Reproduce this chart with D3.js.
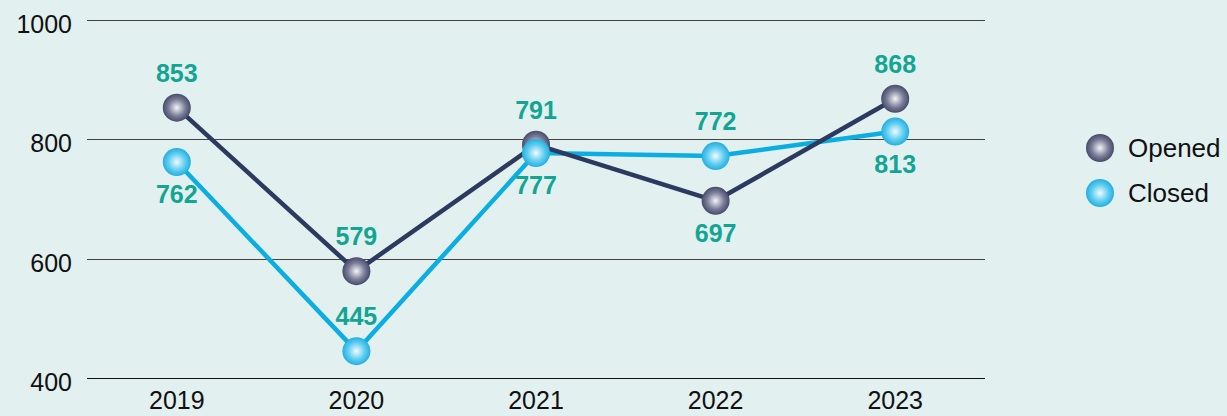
<!DOCTYPE html>
<html>
<head>
<meta charset="utf-8">
<script src="https://cdn.jsdelivr.net/npm/d3@7"></script>
<style>
  body { margin: 0; background: #e2f0ef; }
  svg { display: block; font-family: "Liberation Sans", Arial, sans-serif; }
</style>
</head>
<body>
<div id="chart"></div>
<script>
// data
const years = ["2019", "2020", "2021", "2022", "2023"];
const opened = [853, 579, 791, 697, 868];
const closed = [762, 445, 777, 772, 813];
const yTicks = [400, 600, 800, 1000];
// label placement: -1 above, +1 below
const openedLabelPos = [-1, -1, -1, 1, -1];
const closedLabelPos = [1, -1, 1, -1, 1];

const width = 1227, height = 416;
const margin = { top: 20, right: 242, bottom: 38, left: 87 };

const svg = d3.select("#chart").append("svg")
    .attr("width", width)
    .attr("height", height)
    .style("background", "#e2f0ef");

// gradients for the ball markers
const defs = svg.append("defs");
function ballGradient(id, light, mid, dark) {
    const g = defs.append("radialGradient")
        .attr("id", id)
        .attr("cx", "50%").attr("cy", "50%").attr("r", "55%");
    g.append("stop").attr("offset", "0%").attr("stop-color", light);
    g.append("stop").attr("offset", "55%").attr("stop-color", mid);
    g.append("stop").attr("offset", "100%").attr("stop-color", dark);
}
ballGradient("gOpened", "#f4f4f8", "#7a7d98", "#3a3f5e");
ballGradient("gClosed", "#f2fbff", "#5fcdf0", "#14a8dc");

const x = d3.scalePoint()
    .domain(years)
    .range([margin.left, width - margin.right])
    .padding(0.5);

const y = d3.scaleLinear()
    .domain([400, 1000])
    .range([height - margin.bottom, margin.top]);

// gridlines
svg.append("g")
    .selectAll("line")
    .data(yTicks)
    .join("line")
    .attr("x1", margin.left)
    .attr("x2", width - margin.right)
    .attr("y1", d => Math.round(y(d)) + 0.5)
    .attr("y2", d => Math.round(y(d)) + 0.5)
    .attr("stroke", d => d === 400 ? "#111" : "#444")
    .attr("stroke-width", 1);

// y tick labels
svg.append("g")
    .selectAll("text")
    .data(yTicks)
    .join("text")
    .attr("x", 72)
    .attr("y", d => y(d) + 13)
    .attr("text-anchor", "end")
    .style("font-size", "25px")
    .attr("fill", "#111")
    .text(d => d);

// x tick labels
svg.append("g")
    .selectAll("text")
    .data(years)
    .join("text")
    .attr("x", d => x(d))
    .attr("y", height - 7)
    .attr("text-anchor", "middle")
    .style("font-size", "25px")
    .attr("fill", "#111")
    .text(d => d);

const line = d3.line()
    .x((d, i) => x(years[i]))
    .y(d => y(d));

const series = [
    { name: "Opened", values: opened, color: "#2b3a5e", grad: "url(#gOpened)", pos: openedLabelPos },
    { name: "Closed", values: closed, color: "#0aaee2", grad: "url(#gClosed)", pos: closedLabelPos }
];

// draw closed first so opened sits on top like the reference
[series[1], series[0]].forEach(s => {
    svg.append("path")
        .datum(s.values)
        .attr("fill", "none")
        .attr("stroke", s.color)
        .attr("stroke-width", 4.5)
        .attr("stroke-linejoin", "round")
        .attr("d", line);
});

series.forEach(s => {
    svg.append("g")
        .selectAll("circle")
        .data(s.values)
        .join("circle")
        .attr("cx", (d, i) => x(years[i]))
        .attr("cy", d => y(d))
        .attr("r", 14)
        .attr("fill", s.grad);

    svg.append("g")
        .selectAll("text")
        .data(s.values)
        .join("text")
        .attr("x", (d, i) => x(years[i]))
        .attr("y", (d, i) => y(d) + (s.pos[i] < 0 ? -26 : 41))
        .attr("text-anchor", "middle")
        .style("font-size", "25px")
        .style("font-weight", "bold")
        .attr("fill", "#12a594")
        .text(d => d);
});

// legend
const legend = svg.append("g")
    .attr("transform", "translate(1100,148)");

series.forEach((s, i) => {
    const item = legend.append("g")
        .attr("transform", `translate(0, ${i * 45})`);
    item.append("circle")
        .attr("r", 14)
        .attr("fill", s.grad);
    item.append("text")
        .attr("x", 28)
        .attr("y", 9)
        .style("font-size", "26px")
        .attr("fill", "#111")
        .text(s.name);
});
</script>
</body>
</html>
